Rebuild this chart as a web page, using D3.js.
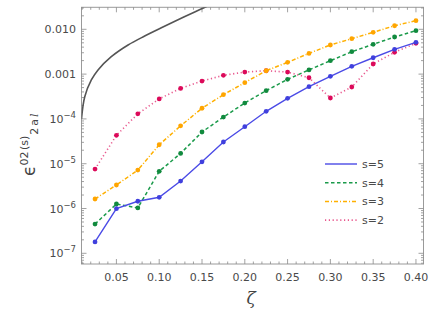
<!DOCTYPE html>
<html><head><meta charset="utf-8">
<script src="https://cdn.jsdelivr.net/npm/d3@7"></script>
<style>body{margin:0;background:#fff}svg{display:block}</style>
</head><body>
<svg id="c" width="436" height="313"></svg>
<script>
const zeta = [0.025,0.05,0.075,0.10,0.125,0.15,0.175,0.20,0.225,0.25,0.275,0.30,0.325,0.35,0.375,0.40];
const s5 = [1.79e-7,9.9e-7,1.45e-6,1.78e-6,4.1e-6,1.1e-5,3.05e-5,6.7e-5,1.48e-4,2.88e-4,5.24e-4,8.93e-4,1.49e-3,2.32e-3,3.58e-3,5.13e-3];
const s4 = [4.5e-7,1.26e-6,1.03e-6,6.76e-6,1.7e-5,5.1e-5,1.1e-4,2.26e-4,4.27e-4,7.66e-4,1.24e-3,1.99e-3,3.16e-3,4.63e-3,6.73e-3,9.3e-3];
const s3 = [1.63e-6,3.35e-6,7.2e-6,2.65e-5,7.0e-5,1.73e-4,3.47e-4,6.45e-4,1.19e-3,1.83e-3,2.9e-3,4.47e-3,6.17e-3,8.57e-3,1.2e-2,1.56e-2];
const s2 = [7.6e-6,4.3e-5,1.3e-4,2.8e-4,4.8e-4,7.0e-4,9.4e-4,1.11e-3,1.19e-3,1.11e-3,8.3e-4,2.93e-4,5.15e-4,1.68e-3,3.07e-3,4.87e-3];
const refZeta = [0.0092,0.013,0.0207,0.0285,0.044,0.0636,0.083,0.1025,0.122,0.1415,0.151,0.16];
const refVal  = [1.0e-4,3.13e-4,7.4e-4,1.24e-3,2.45e-3,4.47e-3,7.08e-3,1.08e-2,1.63e-2,2.44e-2,2.96e-2,3.55e-2];
const seriesNames = ["s=5","s=4","s=3","s=2"];
const xTicks = [0.05,0.10,0.15,0.20,0.25,0.30,0.35,0.40];
const yTicks = [1e-7,1e-6,1e-5,1e-4,1e-3,1e-2];

const svg = d3.select("#c");
const L=81.5,R=423.5,T=7.3,B=264;
const x = d3.scaleLinear().domain([0.0092,0.4088]).range([L,R]);
const y = d3.scaleLog().domain([5.77e-8,0.031]).range([B,T]);

svg.append("clipPath").attr("id","clip").append("rect").attr("x",L).attr("y",T).attr("width",R-L).attr("height",B-T);

svg.append("rect").attr("x",L).attr("y",T).attr("width",R-L).attr("height",B-T).attr("fill","none").attr("stroke","#9a9a9a").attr("stroke-width",1);

const tickCol="#8a8a8a";
const xMinor=[]; for(let i=1;i<=40;i++){xMinor.push(i/100);}
const tg = svg.append("g").attr("stroke",tickCol).attr("stroke-width",0.8);
xMinor.forEach(v=>{
  const major = xTicks.some(t=>Math.abs(t-v)<1e-9);
  const len = major?5:2.5;
  const px=x(v);
  tg.append("line").attr("x1",px).attr("x2",px).attr("y1",B).attr("y2",B-len);
  tg.append("line").attr("x1",px).attr("x2",px).attr("y1",T).attr("y2",T+len);
});
for(let e=-8;e<=-2;e++){
  for(let m=1;m<=9;m++){
    const v=m*Math.pow(10,e);
    if(v<5.77e-8||v>0.031) continue;
    const len = m===1?5:2.5;
    const py=y(v);
    tg.append("line").attr("x1",L).attr("x2",L+len).attr("y1",py).attr("y2",py);
    tg.append("line").attr("x1",R).attr("x2",R-len).attr("y1",py).attr("y2",py);
  }
}
const font="DejaVu Sans, sans-serif";
svg.append("g").selectAll("text").data(xTicks).join("text")
  .attr("x",d=>x(d)).attr("y",281).attr("text-anchor","middle")
  .attr("font-family",font).attr("font-size",11).attr("fill","#4a4a4a")
  .text(d=>d.toFixed(2));
const yl = svg.append("g").attr("font-family",font).attr("font-size",11).attr("fill","#4a4a4a");
yTicks.forEach(v=>{
  const e=Math.round(Math.log10(v));
  const t=yl.append("text").attr("x",76).attr("y",y(v)+4).attr("text-anchor","end");
  if(e===-2) t.text("0.010");
  else if(e===-3) t.text("0.001");
  else { t.append("tspan").text("10"); t.append("tspan").attr("dy",-5).attr("font-size",8.5).text("\u2212"+(-e)); }
});

svg.append("text").attr("x",251).attr("y",304).attr("text-anchor","middle")
  .attr("font-family","DejaVu Serif, serif").attr("font-style","italic").attr("font-size",17).attr("fill","#444").text("\u03B6");
const lab = svg.append("text").attr("transform","translate(35,176) rotate(-90)")
  .attr("font-family",font).attr("fill","#444").attr("font-size",17);
lab.append("tspan").text("\u03F5");
lab.append("tspan").attr("font-size",11).attr("dy",-7).text("02");
lab.append("tspan").attr("font-size",11).attr("dx",1.5).text("(s)");
lab.append("tspan").attr("font-size",11).attr("dy",10).attr("dx",1).text("2");
lab.append("tspan").attr("font-size",11).attr("dx",2).text("a");
lab.append("tspan").attr("font-size",11).attr("dx",2).attr("font-style","italic").attr("font-family","DejaVu Serif, serif").text("l");

const plot = svg.append("g").attr("clip-path","url(#clip)");
plot.append("path").datum(refZeta.map((z,i)=>[z,refVal[i]]))
  .attr("d",d3.line().x(d=>x(d[0])).y(d=>y(d[1])).curve(d3.curveCatmullRom.alpha(0.5)))
  .attr("fill","none").attr("stroke","#555").attr("stroke-width",1.6);

const series = [
  {name:seriesNames[0], vals:s5, line:"#4b4be6", mark:"#4040dd", dash:null, w:1.4},
  {name:seriesNames[1], vals:s4, line:"#1a9a4a", mark:"#118a3e", dash:"3.5,2.5", w:1.5},
  {name:seriesNames[2], vals:s3, line:"#ffb000", mark:"#ffa500", dash:"4,2,1,2", w:1.5},
  {name:seriesNames[3], vals:s2, line:"#e8588e", mark:"#dc0a5a", dash:"1.2,2.6", w:1.6}
];
const line = d3.line().x((d,i)=>x(zeta[i])).y(d=>y(d));
series.slice().reverse().forEach(s=>{
  plot.append("path").datum(s.vals).attr("d",line).attr("fill","none")
    .attr("stroke",s.line).attr("stroke-width",s.w).attr("stroke-dasharray",s.dash);
  plot.append("g").selectAll("circle").data(s.vals).join("circle")
    .attr("cx",(d,i)=>x(zeta[i])).attr("cy",d=>y(d)).attr("r",2.4).attr("fill",s.mark);
});

const lg = svg.append("g");
series.forEach((s,i)=>{
  const yy = 164 + i*18.7;
  lg.append("line").attr("x1",325).attr("x2",357).attr("y1",yy).attr("y2",yy)
    .attr("stroke",s.line).attr("stroke-width",s.w).attr("stroke-dasharray",s.dash);
  lg.append("text").attr("x",362).attr("y",yy+4).attr("font-family",font).attr("font-size",11)
    .attr("fill","#4a4a4a").text(s.name);
});
</script>
</body></html>
